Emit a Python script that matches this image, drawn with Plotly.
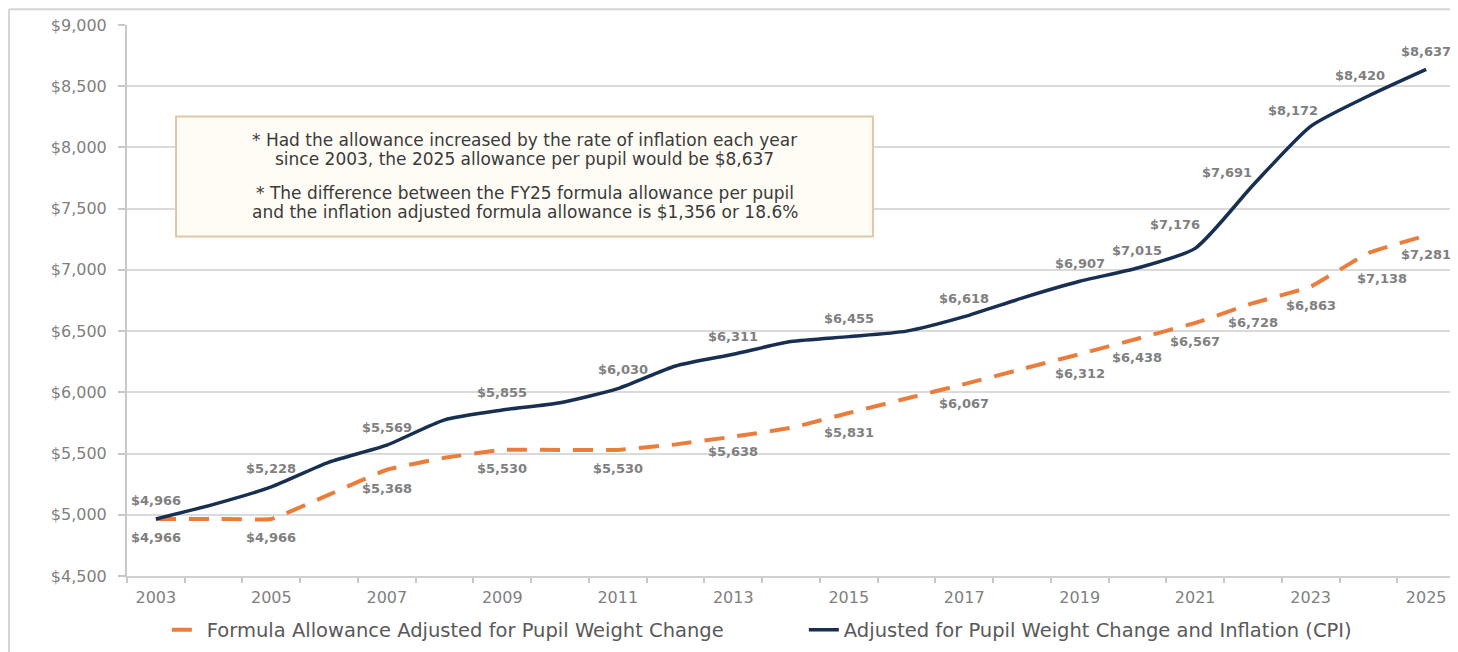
import plotly.graph_objects as go

years = list(range(2003, 2026))
formula_allowance = [4966, 4966, 4966, 5165, 5368, 5465, 5530, 5530, 5530, 5575, 5638, 5710,
                     5831, 5950, 6067, 6190, 6312, 6438, 6567, 6728, 6863, 7138, 7281]
cpi_adjusted = [4966, 5085, 5228, 5430, 5569, 5775, 5855, 5915, 6030, 6215, 6311, 6415,
                6455, 6500, 6618, 6770, 6907, 7015, 7176, 7691, 8172, 8420, 8637]
labelled_years = [2003, 2005, 2007, 2009, 2011, 2013, 2015, 2017, 2019, 2020, 2021, 2022, 2023, 2024, 2025]
tick_years = list(range(2003, 2026, 2))

series_names = ["Formula Allowance Adjusted for Pupil Weight Change",
                "Adjusted for Pupil Weight Change and Inflation (CPI)"]
note_lines = ["* Had the allowance increased by the rate of inflation each year",
              "since 2003, the 2025 allowance per pupil would be $8,637",
              "* The difference between the FY25 formula allowance per pupil",
              "and the inflation adjusted formula allowance is $1,356 or 18.6%"]

NAVY = "#172f50"
ORANGE = "#eb7d3c"
GRAY_TXT = "#7f7f7f"

fig = go.Figure()
fig.add_trace(go.Scatter(x=years, y=formula_allowance, name=series_names[0], mode="lines",
                         line=dict(color=ORANGE, width=4, dash="20px,13px", shape="spline", smoothing=0.3)))
fig.add_trace(go.Scatter(x=years, y=cpi_adjusted, name=series_names[1], mode="lines",
                         line=dict(color=NAVY, width=3.5, shape="spline", smoothing=0.6)))

label_font = dict(family="DejaVu Sans", size=13, color=GRAY_TXT, weight="bold")
# label offsets (styling, pixels)
navy_shift = {2011: (5, 19), 2021: (-20, 24), 2022: (-26, 13), 2023: (-18, 16), 2024: (-8, 21)}
orange_shift = {2013: (0, -15), 2024: (14, -26)}
annotations = []
for yr, v1, v2 in zip(years, formula_allowance, cpi_adjusted):
    if yr not in labelled_years:
        continue
    dx, dy = navy_shift.get(yr, (0, 18))
    annotations.append(dict(x=yr, y=v2, xref="x", yref="y", text=f"${v2:,}", showarrow=False,
                            xshift=dx, yshift=dy, xanchor="center", yanchor="middle", font=label_font))
    dx, dy = orange_shift.get(yr, (0, -19))
    annotations.append(dict(x=yr, y=v1, xref="x", yref="y", text=f"${v1:,}", showarrow=False,
                            xshift=dx, yshift=dy, xanchor="center", yanchor="middle", font=label_font))

note_y = [0.7911, 0.7571, 0.6946, 0.6607]
for txt, yy in zip(note_lines, note_y):
    annotations.append(dict(x=0.2995, y=yy, xref="paper", yref="paper", text=txt, showarrow=False,
                            xanchor="center", yanchor="middle",
                            font=dict(family="DejaVu Sans", size=17, color="#3a3a3a")))

shapes = [
    dict(type="rect", xref="paper", yref="paper", x0=0.0369, x1=0.5617, y0=0.616, y1=0.834,
         line=dict(color="#e5c6a3", width=2), fillcolor="#fffcf6", layer="above"),
    dict(type="line", xref="paper", yref="paper", x0=-0.0889, x1=-0.0889, y0=-0.2, y1=1.0286,
         line=dict(color="#d4d4d4", width=2)),
    dict(type="line", xref="paper", yref="paper", x0=-0.0889, x1=1.01, y0=1.0286, y1=1.0286,
         line=dict(color="#d4d4d4", width=2)),
]

fig.update_layout(
    width=1450, height=644,
    margin=dict(l=119, r=3, t=17, b=67),
    paper_bgcolor="white", plot_bgcolor="white",
    font=dict(family="DejaVu Sans", color=GRAY_TXT),
    showlegend=True,
    legend=dict(orientation="h", x=0.030, y=-0.098, xanchor="left", yanchor="middle",
                font=dict(family="DejaVu Sans", size=19.5, color="#595959"),
                entrywidth=592, entrywidthmode="pixels", bgcolor="rgba(0,0,0,0)"),
    annotations=annotations,
    shapes=shapes,
)
fig.update_xaxes(range=[2002.5, 2025.5], tickmode="array", tickvals=tick_years,
                 ticktext=[str(y) for y in tick_years], ticks="", showgrid=False, zeroline=False,
                 showline=True, linecolor="#d0d0d0", linewidth=2,
                 tickfont=dict(family="DejaVu Sans", size=16, color=GRAY_TXT), ticklabelstandoff=6,
                 minor=dict(tick0=2002.5, dtick=1, ticks="outside", ticklen=5, tickcolor="#c8c8c8",
                            tickwidth=2, showgrid=False))
fig.update_yaxes(range=[4500, 9000], dtick=500, tick0=4500, tickformat="$,.0f",
                 showgrid=True, gridcolor="#dadada", gridwidth=1.5, zeroline=False,
                 showline=True, linecolor="#c8c8c8", linewidth=2,
                 ticks="outside", ticklen=7, tickcolor="#c8c8c8", tickwidth=1.5,
                 tickfont=dict(family="DejaVu Sans", size=16, color=GRAY_TXT), ticklabelstandoff=8)

fig.write_html("out.html")
